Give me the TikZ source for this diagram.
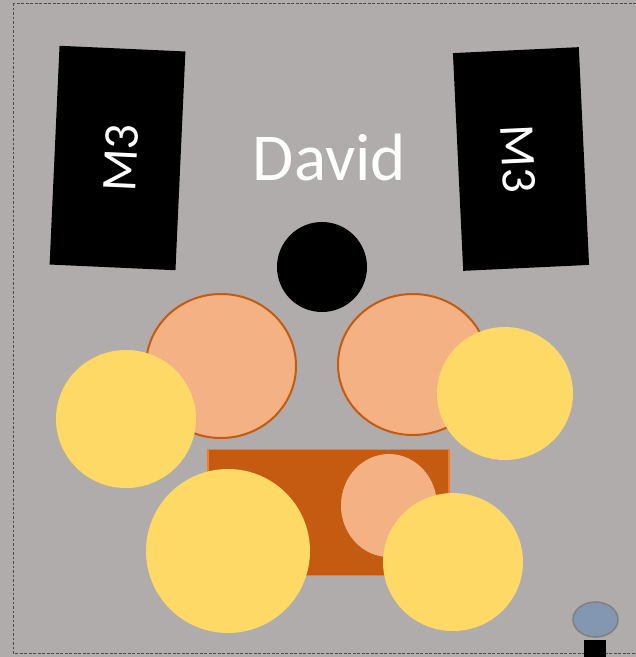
\documentclass[tikz,border=0pt]{standalone}
\usepackage{fontspec}
\setmainfont{Carlito}
\usepackage{xcolor}
\usepackage{tikz}
\usetikzlibrary{shapes.geometric,positioning}

\definecolor{stagegray}{HTML}{AFACAB}
\definecolor{drumsalmon}{HTML}{F4B183}
\definecolor{drumrust}{HTML}{C55A11}
\definecolor{riserline}{HTML}{ED7D31}
\definecolor{cymbalgold}{HTML}{FFD966}
\definecolor{pedalblue}{HTML}{8497B0}

\begin{document}
\begin{tikzpicture}[x=1pt, y=-1pt,
  monitor/.style={rectangle, fill=black, inner sep=0pt},
  montext/.style={text=white, inner sep=0pt, font=\fontsize{50}{50}\selectfont},
  drum/.style={ellipse, draw=drumrust, line width=2pt, fill=drumsalmon, inner sep=0pt},
  cymbal/.style={ellipse, fill=cymbalgold, inner sep=0pt},
  throne/.style={circle, fill=black, inner sep=0pt}
]
% stage
\fill[stagegray] (0,0) rectangle (636,657);
\useasboundingbox (0,0) rectangle (636,657);
\draw[black!70, dashed, dash pattern=on 2.7pt off 1.8pt, line width=1pt] (13,3) rectangle (660,653);

% wedges
\node[monitor, rotate=87.4, minimum width=219, minimum height=126] (monL) at (117.5,158) {};
\node[monitor, rotate=-87.3, minimum width=218, minimum height=126] (monR) at (521,159) {};
\node[montext, rotate=87.4] (labL) at ([xshift=3.5]monL.center) {M3};
\node[montext, rotate=-87.3] (labR) at ([xshift=-3]monR.center) {M3};
\node[text=white, font=\fontsize{67}{67}\selectfont] (name) at (329.5,157) {David};

% drum seat
\node[throne, minimum size=90] (seat) at (322,267) {};

% toms
\node[drum, minimum width=150, minimum height=144] (tomL) at (221,366) {};
\node[drum, minimum width=150, minimum height=141] (tomR) at (413,364.5) {};

% riser + kick
\node[rectangle, draw=riserline, line width=1.5pt, fill=drumrust,
  minimum width=241, minimum height=126, inner sep=0pt] (riser) at (328.5,512.5) {};
\node[ellipse, fill=drumsalmon, minimum width=96, minimum height=103, inner sep=0pt] (kick) at (389,505.5) {};

% cymbals
\node[cymbal, minimum width=140, minimum height=138] (cymL) at (126,419) {};
\node[cymbal, minimum width=136, minimum height=133] (cymR) at (505,393.5) {};
\node[cymbal, minimum width=164, minimum height=164] (cymBL) at (228,551) {};
\node[cymbal, minimum width=140, minimum height=138] (cymBR) at (453,562) {};

% mic stand
\node[rectangle, fill=black, minimum width=22, minimum height=22, inner sep=0pt] (standfoot) at (595,651) {};
\node[ellipse, draw=black!50, line width=1.5pt, fill=pedalblue,
  minimum width=45, minimum height=35, inner sep=0pt] (mic) at (595.5,619.5) {};
\end{tikzpicture}
\end{document}
